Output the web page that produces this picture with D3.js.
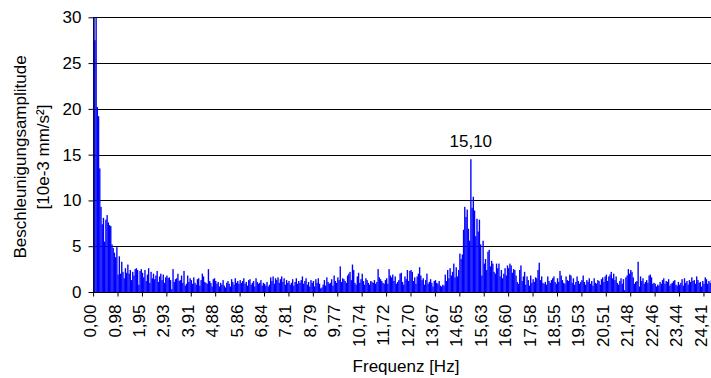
<!DOCTYPE html>
<html>
<head>
<meta charset="utf-8">
<script src="https://cdn.jsdelivr.net/npm/d3@7"></script>
<style>
  body { margin: 0; background: #fff; }
  text { font-family: "Liberation Sans", Arial, sans-serif; fill: #000; }
</style>
</head>
<body>
<script>
// amplitude per FFT bin (10e-3 mm/s²), bins of 0.0488 Hz
const lowBand = [
  31, 27.5, 31, 20.2, 19.2, 13.5, 9.3, 7.4, 8.1, 5.5, 7.9, 8.4, 7.6, 7.3, 7.2, 5.2, 4.8, 4.3, 3.8, 4.9,
  1.9, 3.9, 2.0, 3.3, 2.2, 1.5, 2.6, 2.1, 3.0, 2.0, 2.4, 1.3, 2.2, 1.8, 2.5, 2.6, 2.4, 0.8, 2.3, 2.5,
  2.1, 1.6, 2.4, 1.2, 1.9, 2.6, 1.0, 2.2, 1.5, 2.0, 1.4, 1.8, 2.3, 1.1, 1.7, 2.0, 1.3, 1.9, 1.0, 1.6,
  1.8, 1.5, 1.6, 1.3, 0.3, 2.5, 1.1, 1.4, 1.5, 2.0, 1.2, 1.3, 1.8, 1.0, 2.3, 0.7, 0.9, 1.8, 1.1, 1.5,
  1.3, 0.9, 1.6, 1.0, 0.8, 1.4, 1.5, 0.7, 1.3, 2.0, 1.7, 1.1, 1.0, 0.9, 2.5, 1.2, 1.0, 0.6, 1.4, 1.5
];
const midBand = [
  1.2, 0.9, 1.1, 0.6, 1.0, 0.8, 1.3, 0.7, 0.5, 1.0, 1.2, 0.9, 0.6, 1.4, 1.1, 0.8, 1.5, 1.0, 1.2, 0.9,
  1.3, 1.0, 1.2, 1.5, 0.9, 1.1, 0.7, 1.3, 1.4, 0.8, 1.0, 1.2, 0.6, 1.5, 1.1, 0.9, 1.0, 1.3, 0.7, 1.0,
  0.9, 0.7, 1.1, 0.6, 0.8, 1.6, 1.2, 1.7, 0.9, 1.5, 1.3, 1.6, 1.0, 1.4, 1.7, 1.1, 1.5, 0.8, 1.3, 1.0,
  1.2, 0.8, 1.0, 1.4, 0.7, 1.1, 1.5, 0.9, 1.2, 1.0, 1.3, 1.7, 0.9, 1.2, 1.5, 0.8, 1.1, 0.6, 1.3, 1.0,
  1.2, 0.6, 1.4, 1.0, 1.5, 0.9, 0.4, 0.5, 0.8, 1.3, 0.7, 1.6, 1.1, 0.9, 1.0, 1.4, 0.7, 1.8, 1.2, 1.0,
  1.6, 1.3, 2.8, 1.1, 1.5, 1.4, 1.2, 1.0, 1.8, 2.0, 2.2, 1.3, 3.0, 2.4, 1.0, 0.8, 1.7, 2.1, 1.0, 1.4,
  2.0, 1.2, 0.8, 1.5, 1.3, 1.0, 0.8, 1.2, 1.1, 1.0, 1.3, 0.9, 1.1, 2.5, 1.6, 1.4, 1.2, 1.0, 0.9, 1.3,
  1.5, 0.9, 2.5, 1.8, 1.6, 1.9, 1.2, 1.7, 0.9, 1.1, 1.3, 2.0, 2.1, 1.1, 0.8, 1.7, 1.4, 2.4, 1.2, 2.3,
  2.4, 2.2, 1.2, 1.6, 0.9, 1.7, 2.0, 2.7, 1.8, 1.3, 1.5, 0.8, 1.3, 2.0, 0.9, 1.1, 1.4, 1.0, 0.6, 1.2,
  1.3, 1.0, 0.9, 1.2, 0.7, 0.6, 0.8, 0.7, 1.9, 1.2, 2.4, 1.5, 2.6, 1.8, 2.2, 3.1, 1.6, 2.7, 1.7, 2.4
];
const peakBand = [
  4.2, 3.6, 4.1, 6.8, 9.3, 8.2, 9.0, 6.9, 5.6, 14.5, 9.2, 10.4, 8.9, 6.1, 8.0, 6.6, 7.9, 5.2, 1.8, 5.6,
  3.1, 3.6, 2.4, 4.4, 4.6, 2.8, 3.4, 3.1, 2.2, 2.0, 3.1, 2.6, 3.1, 1.7, 2.4, 1.5, 2.0, 2.6, 1.8, 2.9
];
const highBand = [
  2.6, 3.1, 2.9, 2.1, 2.5, 2.4, 1.8, 1.1, 0.9, 2.4, 2.9, 1.2, 1.7, 2.2, 0.8, 1.7, 1.3, 0.7, 1.8, 1.0,
  1.4, 1.1, 1.6, 1.5, 2.4, 3.2, 1.3, 1.7, 1.0, 0.9, 1.1, 0.8, 1.7, 1.2, 1.0, 1.3, 1.5, 1.7, 1.1, 0.9,
  1.5, 1.1, 2.3, 1.8, 1.3, 1.0, 0.9, 1.7, 1.3, 1.2, 1.9, 1.8, 1.0, 1.5, 0.8, 1.1, 1.7, 1.2, 0.9, 1.1,
  1.3, 1.8, 1.1, 0.8, 1.3, 1.1, 1.5, 0.9, 1.2, 0.7, 1.5, 1.0, 0.9, 1.3, 1.2, 0.8, 1.4, 1.6, 1.1, 1.7,
  1.9, 1.2, 1.7, 1.9, 2.2, 1.5, 2.0, 1.3, 1.7, 1.0, 0.8, 1.2, 1.5, 0.9, 1.4, 0.2, 1.6, 1.8, 2.5, 2.0,
  2.4, 2.2, 1.6, 0.9, 1.1, 1.2, 3.3, 0.6, 1.7, 1.2, 1.5, 0.9, 1.1, 1.3, 1.0, 1.8, 1.9, 1.6, 0.9, 1.0,
  0.9, 0.6, 0.8, 0.7, 1.1, 0.9, 1.3, 1.5, 0.9, 1.2, 1.1, 1.4, 0.7, 0.9, 1.0, 1.2, 1.3, 0.8, 0.7, 1.1,
  0.8, 1.0, 1.4, 0.7, 1.5, 1.0, 1.2, 0.8, 1.3, 1.1, 1.6, 1.2, 1.3, 0.9, 1.7, 1.3, 1.0, 1.1, 0.6, 1.2,
  0.9, 1.6, 1.4, 0.9, 1.2, 1.0, 1.3, 0.8, 1.1, 0.9, 1.2, 1.0
];

// one label every 20 bins
const tickLabels = ["0,00", "0,98", "1,95", "2,93", "3,91", "4,88", "5,86", "6,84", "7,81", "8,79",
  "9,77", "10,74", "11,72", "12,70", "13,67", "14,65", "15,63", "16,60", "17,58", "18,55",
  "19,53", "20,51", "21,48", "22,46", "23,44", "24,41"];
const yTicks = [0, 5, 10, 15, 20, 25, 30];
const peakBin = 309;
const peakLabel = "15,10";

const amplitudes = lowBand.concat(midBand, peakBand, highBand);

const width = 711, height = 378;
const plotLeft = 93, plotTop = 17.3, plotBottom = 292;
const plotRight = 718; // plot runs past the cropped right edge
const font = '"Liberation Sans", Arial, sans-serif';

const svg = d3.select('body')
    .append('svg')
    .attr('width', width)
    .attr('height', height);

const x = d3.scaleBand()
    .domain(d3.range(amplitudes.length))
    .range([plotLeft, plotRight])
    .paddingInner(0);

const y = d3.scaleLinear()
    .domain([0, 30])
    .range([plotBottom, plotTop]);

svg.append('defs').append('clipPath').attr('id', 'plot')
    .append('rect')
    .attr('x', plotLeft).attr('y', plotTop)
    .attr('width', plotRight - plotLeft).attr('height', plotBottom - plotTop);

// gridlines
svg.append('g')
    .selectAll('line')
    .data(yTicks.slice(1))
    .enter()
    .append('line')
    .attr('x1', plotLeft).attr('x2', width)
    .attr('y1', d => Math.round(y(d)) + 0.5)
    .attr('y2', d => Math.round(y(d)) + 0.5)
    .attr('stroke', '#000')
    .attr('stroke-width', 1);

// bars
svg.append('g')
    .attr('clip-path', 'url(#plot)')
    .selectAll('rect')
    .data(amplitudes)
    .enter()
    .append('rect')
    .attr('x', (d, i) => x(i))
    .attr('width', x.bandwidth() + 0.15)
    .attr('y', d => y(Math.min(d, 30)))
    .attr('height', d => plotBottom - y(Math.min(d, 30)))
    .attr('fill', '#0000ff');

// y axis
const yAxis = svg.append('g')
    .attr('transform', `translate(${plotLeft + 0.5},0)`)
    .call(d3.axisLeft(y).tickValues(yTicks).tickSize(5).tickSizeOuter(0).tickPadding(7));
yAxis.selectAll('text').style('font-size', '17px').style('font-family', font);
yAxis.selectAll('line,path').attr('stroke', '#000');

// x axis
const xAxis = svg.append('g')
    .attr('transform', `translate(0,${plotBottom + 0.5})`)
    .call(d3.axisBottom(x)
        .tickValues(d3.range(0, amplitudes.length, 20))
        .tickFormat((d, i) => tickLabels[i] || '')
        .tickSize(4)
        .tickSizeOuter(0));
xAxis.select('.domain').attr('d', `M${plotLeft},0H${width}`).attr('stroke', '#000');
xAxis.selectAll('line').attr('stroke', '#000');
xAxis.selectAll('text')
    .style('font-size', '17px')
    .style('font-family', font)
    .attr('transform', 'rotate(-90)')
    .attr('text-anchor', 'end')
    .attr('x', -12)
    .attr('y', 0)
    .attr('dy', '0.15em');

// peak annotation
svg.append('text')
    .attr('x', x(peakBin) + x.bandwidth() / 2)
    .attr('y', y(amplitudes[peakBin]) - 12.5)
    .attr('text-anchor', 'middle')
    .style('font-size', '17px')
    .text(peakLabel);

// axis titles
svg.append('text')
    .attr('x', 406)
    .attr('y', 372)
    .attr('text-anchor', 'middle')
    .style('font-size', '17px')
    .text('Frequenz [Hz]');

const yTitle = svg.append('text')
    .attr('transform', 'translate(0,157) rotate(-90)')
    .attr('text-anchor', 'middle')
    .style('font-size', '17px');
yTitle.append('tspan').attr('x', 0).attr('y', 26).text('Beschleunigungsamplitude');
yTitle.append('tspan').attr('x', 0).attr('y', 49).text('[10e-3 mm/s²]');
</script>
</body>
</html>
